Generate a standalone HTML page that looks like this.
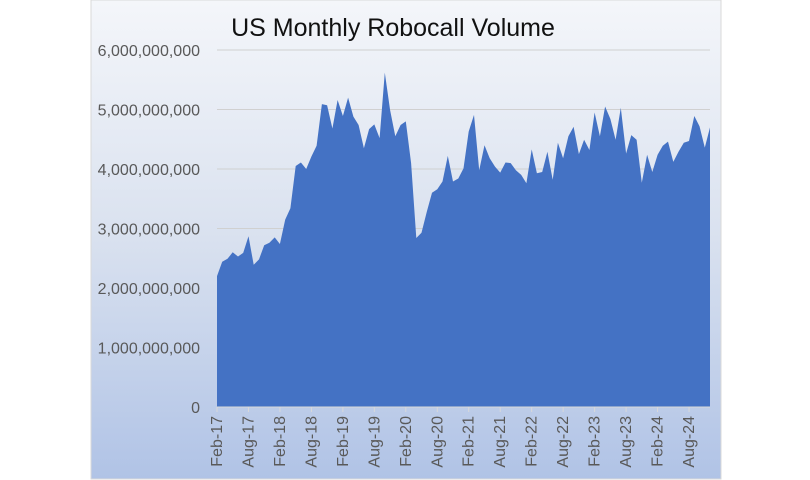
<!DOCTYPE html>
<html><head><meta charset="utf-8"><style>
body{margin:0;width:810px;height:480px;background:#fff;overflow:hidden}
svg{display:block;font-family:"Liberation Sans",sans-serif}
</style></head><body>
<svg id="chart" width="810" height="480" xmlns="http://www.w3.org/2000/svg">
<defs><linearGradient id="bg" x1="0" y1="0" x2="0" y2="1">
<stop offset="0" stop-color="#f4f6fa"/><stop offset="0.5" stop-color="#d9e1ef"/><stop offset="1" stop-color="#b0c3e6"/></linearGradient></defs>
<rect x="91" y="0" width="630" height="479" fill="url(#bg)" stroke="#d9d9d9"/>
<text x="393" y="36" text-anchor="middle" font-size="25" fill="#111">US Monthly Robocall Volume</text>
<g id="grid"></g><g id="area"></g><g id="yax"></g><g id="xax"></g>
</svg>
<script>
const categoryStartYear = 2017, categoryStartMonth = 1; // Feb-17
const monthNames = ["Jan","Feb","Mar","Apr","May","Jun","Jul","Aug","Sep","Oct","Nov","Dec"];
const volumes = [2.20,2.44,2.49,2.60,2.53,2.59,2.87,2.39,2.48,2.72,2.76,2.85,2.74,3.15,3.34,4.05,4.11,4.00,4.21,4.39,5.09,5.07,4.68,5.16,4.89,5.20,4.88,4.74,4.35,4.67,4.75,4.52,5.62,4.99,4.55,4.74,4.80,4.10,2.84,2.93,3.28,3.60,3.66,3.79,4.22,3.79,3.84,4.01,4.63,4.91,3.98,4.40,4.18,4.04,3.94,4.11,4.10,3.98,3.90,3.76,4.33,3.93,3.95,4.29,3.82,4.44,4.18,4.55,4.71,4.25,4.49,4.32,4.95,4.55,5.05,4.84,4.49,5.03,4.26,4.57,4.49,3.77,4.24,3.95,4.24,4.39,4.46,4.12,4.29,4.44,4.47,4.89,4.72,4.36,4.70];
const yTicks = [0,1e9,2e9,3e9,4e9,5e9,6e9];
const yTickLabels = ["0","1,000,000,000","2,000,000,000","3,000,000,000","4,000,000,000","5,000,000,000","6,000,000,000"];
const NS="http://www.w3.org/2000/svg";
const X0=217,X1=710,Y0=407,Y6=50;
const xs=i=>X0+(X1-X0)*i/(volumes.length-1);
const ys=v=>Y0-(Y0-Y6)*v/6e9;
function mk(tag,attrs,parent){const e=document.createElementNS(NS,tag);for(const k in attrs)e.setAttribute(k,attrs[k]);parent.appendChild(e);return e;}
const grid=document.getElementById('grid'),yax=document.getElementById('yax'),xax=document.getElementById('xax'),area=document.getElementById('area');
yTicks.forEach((t,i)=>{
 if(t>0){const l=mk('line',{x1:X0,x2:X1,y1:ys(t),y2:ys(t),stroke:'#d0d0d0','stroke-width':1},grid);
 
 }
 const tx=mk('text',{x:200,y:ys(t)+6,'text-anchor':'end','font-size':16,fill:'#595959'},yax);
 tx.textContent=yTickLabels[i];
 
 
});
let d='M'+xs(0)+','+Y0;
volumes.forEach((v,i)=>{d+=' L'+xs(i).toFixed(1)+','+ys(v*1e9).toFixed(1);});
d+=' L'+xs(volumes.length-1)+','+Y0+' Z';
const p=mk('path',{d:d,fill:'#4472c4'},area);


const ax=mk('line',{x1:X0,x2:X1,y1:Y0,y2:Y0,stroke:'#d9d9d9'},xax);


for(let i=0;i<volumes.length;i+=6){
 const x=xs(i);
 const tk=mk('line',{x1:x,x2:x,y1:Y0,y2:Y0+5,stroke:'#d9d9d9'},xax);
 
 
 const m=(categoryStartMonth+i)%12,yr=categoryStartYear+Math.floor((categoryStartMonth+i)/12);
 const tx=mk('text',{x:x+5,y:Y0+9,'text-anchor':'end','font-size':16,fill:'#595959',transform:`rotate(-90 ${x+5} ${Y0+9})`},xax);
 tx.textContent=monthNames[m]+'-'+String(yr).slice(2);
 
 
}
</script>
</body></html>
